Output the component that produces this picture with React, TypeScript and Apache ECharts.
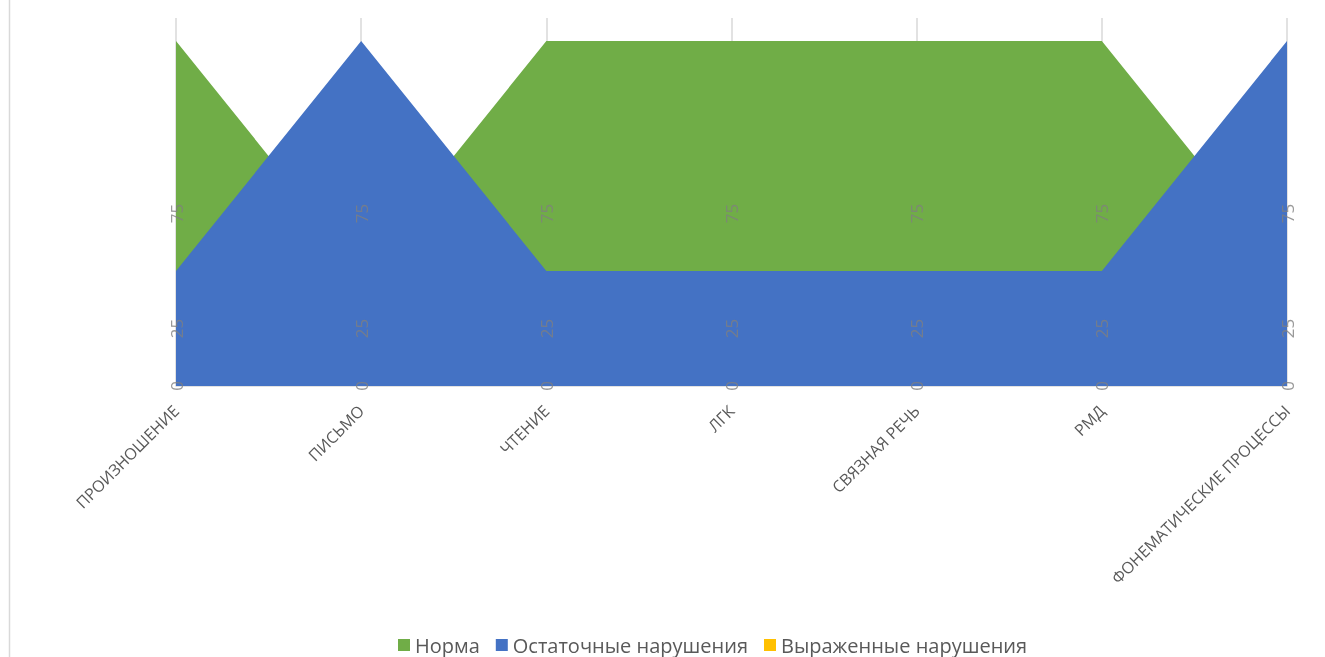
import React, { useEffect, useRef } from "react";
import * as echarts from "echarts";

const categories = [
  "ПРОИЗНОШЕНИЕ",
  "ПИСЬМО",
  "ЧТЕНИЕ",
  "ЛГК",
  "СВЯЗНАЯ РЕЧЬ",
  "РМД",
  "ФОНЕМАТИЧЕСКИЕ ПРОЦЕССЫ",
];
const normaValues = [75, 25, 75, 75, 75, 75, 25];
const residualValues = [25, 75, 25, 25, 25, 25, 75];
const severeValues = [0, 0, 0, 0, 0, 0, 0];
const seriesNames = ["Норма", "Остаточные нарушения", "Выраженные нарушения"];
const seriesColors = ["#70AD47", "#4472C4", "#FFC000"];

export default function App() {
  const ref = useRef<HTMLDivElement>(null);
  useEffect(() => {
    if (!ref.current) return;
    const chart = echarts.init(ref.current, undefined, { renderer: "svg" });
    const all = [normaValues, residualValues, severeValues];
    const areaSeries = all.map((vals, i) => ({
      name: seriesNames[i],
      type: "line",
      data: vals,
      symbol: "none",
      lineStyle: { width: 0 },
      itemStyle: { color: seriesColors[i] },
      areaStyle: { color: seriesColors[i], opacity: 1 },
      z: 2 + i,
    }));
    const labelSeries = all.map((vals, i) => ({
      name: seriesNames[i] + "-label",
      type: "scatter",
      data: vals.map((v, j) => ({ value: [j, v / 2], raw: v })),
      symbolSize: 1,
      itemStyle: { color: "rgba(0,0,0,0)" },
      silent: true,
      z: 10,
      label: {
        show: true,
        position: "inside",
        rotate: 90,
        color: "#7F7F7F",
        fontSize: 17,
        fontFamily: "Open Sans",
        formatter: (p: any) => String(p.data.raw),
      },
    }));
    chart.setOption({
      animation: false,
      grid: { left: 176, right: 38, top: 18, bottom: 271 },
      xAxis: {
        type: "category",
        data: categories,
        boundaryGap: false,
        axisLine: { show: true, lineStyle: { color: "#D9D9D9", width: 1.5 } },
        axisTick: { show: false },
        splitLine: { show: true, lineStyle: { color: "#D9D9D9", width: 1.5 } },
        axisLabel: {
          rotate: 45,
          margin: 22,
          color: "#595959",
          fontSize: 16,
          fontFamily: "Open Sans",
          interval: 0,
        },
      },
      yAxis: {
        type: "value",
        min: 0,
        max: 80,
        show: false,
        splitLine: { show: false },
      },
      legend: {
        data: seriesNames,
        left: 393,
        top: 630,
        icon: "rect",
        itemWidth: 12,
        itemHeight: 12,
        itemGap: 16,
        textStyle: { color: "#595959", fontSize: 20, fontFamily: "Open Sans" },
      },
      graphic: [
        {
          type: "line",
          shape: { x1: 9.5, y1: 0, x2: 9.5, y2: 657 },
          style: { stroke: "#D9D9D9", lineWidth: 1.5 },
        },
      ],
      series: [...areaSeries, ...labelSeries],
    });
    return () => chart.dispose();
  }, []);
  return (
    <div
      ref={ref}
      style={{ position: "fixed", left: 0, top: 0, width: 1325, height: 657 }}
    />
  );
}
